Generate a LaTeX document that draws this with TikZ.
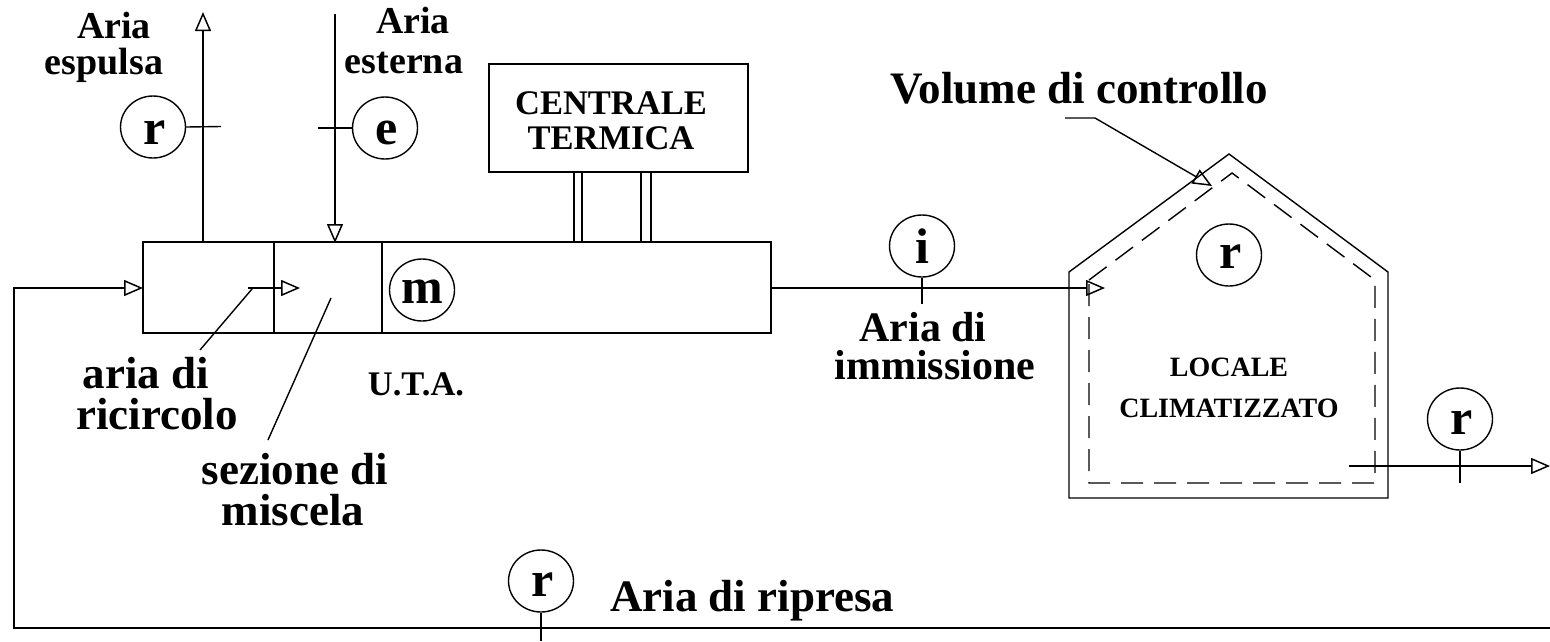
\documentclass[tikz,border=0pt]{standalone}
\usepackage{fontspec}
\setmainfont{Liberation Serif}
\usetikzlibrary{arrows.meta,shapes.geometric}
\newcommand{\rr}{\hspace*{4pt}r}
\tikzset{
 ln/.style={line width=1.4pt,line cap=butt},
 flow/.style={ln,-{Triangle[open,length=19pt,width=16pt,line width=1.5pt]}},
 lbl/.style={font=\bfseries\fontsize{38}{39}\selectfont,align=center,inner sep=0pt},
 big/.style={font=\bfseries\fontsize{45}{41}\selectfont,align=center,inner sep=0pt},
 immtxt/.style={font=\bfseries\fontsize{42}{38.5}\selectfont,align=center,inner sep=0pt},
 captxt/.style={font=\bfseries\fontsize{34.5}{35}\selectfont,align=center,inner sep=0pt},
 tinytxt/.style={font=\bfseries\fontsize{28}{41}\selectfont,align=center,inner sep=0pt},
 probe/.style={ln,draw,ellipse,minimum width=65pt,minimum height=62pt,inner sep=0pt,text depth=0pt,text height=32pt,font=\bfseries\fontsize{50}{50}\selectfont},
}
\begin{document}
\begin{tikzpicture}[x=1pt,y=-1pt]
\useasboundingbox (0,0) rectangle (1550,641);
% UTA
\node[ln,draw,minimum width=628pt,minimum height=91pt,inner sep=0pt] (uta) at (457,287.5) {};
\coordinate (d1t) at (274,242); \coordinate (d1b) at (274,333);
\coordinate (d2t) at (382,242); \coordinate (d2b) at (382,333);
\draw[ln] (d1t)--(d1b);
\draw[ln] (d2t)--(d2b);
% Central
\node[ln,draw,minimum width=259pt,minimum height=108pt,inner sep=0pt] (ct) at (618.5,118) {};
\node[captxt] (cttxt) at (611,121) {CENTRALE\\TERMICA};
\coordinate (p1) at (574,172); \coordinate (p1b) at (574,242);
\coordinate (p2) at (582,172); \coordinate (p2b) at (582,242);
\coordinate (p3) at (641,172); \coordinate (p3b) at (641,242);
\coordinate (p4) at (651,172); \coordinate (p4b) at (651,242);
\draw[ln] (p1)--(p1b); \draw[ln] (p2)--(p2b); \draw[ln] (p3)--(p3b); \draw[ln] (p4)--(p4b);
% expelled / external
\coordinate (ex0) at (203,242); \coordinate (ex1) at (203,12);
\draw[flow] (ex0)--(ex1);
\coordinate (in0) at (335,14); \coordinate (in1) at (335,243);
\draw[flow] (in0)--(in1);
\node[probe,text height=35pt] (pr) at (153,127) {\rr};
\coordinate (prt) at (221,126.5);
\draw[ln] (pr.east)--(prt);
\node[probe] (pe) at (385,128) {\hspace*{3pt}e};
\coordinate (pet) at (318,128);
\draw[ln] (pe.west)--(pet);
\node[lbl] (aesp) at (104,47) {\hspace*{20pt}Aria\\[-3pt]espulsa};
\node[lbl] (aest) at (404,40) {\hspace*{18pt}Aria\\[1pt]esterna};
% return
\coordinate (r0) at (1550,628); \coordinate (r1) at (14,628); \coordinate (r2) at (14,288); \coordinate (r3) at (143,288);
\draw[flow,line join=miter] (r0)--(r1)--(r2)--(r3);
\node[probe,text height=30pt] (prb) at (541,581) {\rr};
\coordinate (prbt) at (541,641);
\draw[ln] (prb.south)--(prbt);
\node[big,anchor=west] (rip) at (610,601) {Aria di ripresa};
% recirc
\coordinate (c0) at (248,288); \coordinate (c1) at (300,288);
\draw[flow] (c0)--(c1);
\coordinate (c2) at (252,289); \coordinate (c3) at (200,350);
\draw[ln] (c2)--(c3);
\coordinate (s0) at (331,298); \coordinate (s1) at (268,440);
\draw[ln] (s0)--(s1);
\node[big] (ric) at (157,394) {aria di\hspace*{22pt}\\ricircolo};
\node[big] (sez) at (295,490) {sezione di\\miscela\hspace*{4pt}};
\node[captxt] (uta2) at (416,384) {U.T.A.};
\node[probe,text height=26pt] (pm) at (422,290) {m};
% immission
\coordinate (i0) at (771,288); \coordinate (i1) at (1105,288);
\draw[flow] (i0)--(i1);
\node[probe,text height=34pt] (pi) at (922,246) {i};
\coordinate (it) at (922,304);
\draw[ln] (pi.south)--(it);
\node[immtxt] (imm) at (935,346) {Aria di\hspace*{24pt}\\immissione};
% room
\coordinate (h1) at (1069,272); \coordinate (h2) at (1229,154); \coordinate (h3) at (1388,272); \coordinate (h4) at (1388,498); \coordinate (h5) at (1069,498);
\draw[ln,line join=miter] (h1)--(h2)--(h3)--(h4)--(h5)--cycle;
\coordinate (k1) at (1089,280); \coordinate (k2) at (1232,173); \coordinate (k3) at (1375,280); \coordinate (k4) at (1375,483); \coordinate (k5) at (1089,483);
\draw[ln,dash pattern=on 22pt off 11pt] (k1)--(k2)--(k3)--(k4)--(k5)--cycle;
\node[probe,text height=26pt] (prr) at (1229,255) {\rr};
\node[tinytxt] (loc) at (1229,388) {LOCALE\\CLIMATIZZATO};
\coordinate (o0) at (1349,466); \coordinate (o1) at (1550,466);
\draw[flow] (o0)--(o1);
\node[probe,text height=30pt] (pro) at (1460,419) {\rr};
\coordinate (ot) at (1460,483);
\draw[ln] (pro.south)--(ot);
% volume
\node[big,anchor=west] (vol) at (890,88) {Volume di controllo};
\coordinate (v0) at (1065,118); \coordinate (v1) at (1095,118); \coordinate (v2) at (1212,186);
\draw[flow,line join=miter] (v0)--(v1)--(v2);
\end{tikzpicture}
\end{document}
